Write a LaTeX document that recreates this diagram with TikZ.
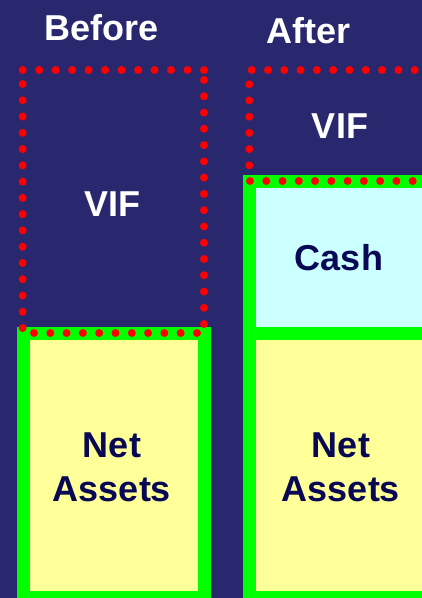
\documentclass[tikz,border=0pt]{standalone}
\usepackage{fontspec}
\setmainfont{Liberation Sans}
\definecolor{bgnavy}{RGB}{41,39,110}
\definecolor{txtnavy}{RGB}{8,8,84}
\definecolor{boxgreen}{RGB}{0,255,0}
\definecolor{cashcyan}{RGB}{204,255,255}
\definecolor{assetyellow}{RGB}{255,255,153}
\definecolor{dotred}{RGB}{255,0,0}
\tikzset{
  greenbox/.style={draw=boxgreen, line width=13pt},
  reddot/.style={fill=dotred},
  whitelabel/.style={text=white, font=\fontsize{36}{44}\selectfont\bfseries, anchor=base, inner sep=0pt},
  navylabel/.style={text=txtnavy, font=\fontsize{36}{44}\selectfont\bfseries, anchor=base, inner sep=0pt, align=center},
}
\begin{document}
\begin{tikzpicture}[x=1pt,y=-1pt]
\useasboundingbox (0,0) rectangle (422,598);
\fill[bgnavy] (0,0) rectangle (422,598);
\clip (0,0) rectangle (422,598);
% boxes
\draw[greenbox, fill=assetyellow] (23,333.5) rectangle (204.5,597);
\draw[greenbox, fill=cashcyan] (249.5,181.5) rectangle (440,333.5);
\draw[greenbox, fill=assetyellow] (249.5,333.5) rectangle (440,597);
% dotted VIF outline, left
\foreach \i in {0,...,11} \fill[reddot] (22.7+16.48*\i,70) circle (4);
\foreach \i in {0,...,15} \fill[reddot] (204,80+16.27*\i) circle (4);
\foreach \i in {0,...,10} \fill[reddot] (34+16.3*\i,333) circle (4);
\foreach \i in {0,...,15} \fill[reddot] (22.7,84+16.27*\i) circle (4);
% dotted VIF outline, right
\foreach \i in {0,...,11} \fill[reddot] (251.7+16.3*\i,70) circle (4);
\foreach \i in {0,...,5} \fill[reddot] (249.3,84.3+16.2*\i) circle (4);
\foreach \i in {0,...,11} \fill[reddot] (250+16.27*\i,181) circle (4);
% labels
\node[whitelabel] (before) at (101.7,40) {Before};
\node[whitelabel] (after) at (309,43) {After};
\node[whitelabel] (vifl) at (112.5,216) {VIF};
\node[whitelabel] (vifr) at (340,138) {VIF};
\node[navylabel] (cash) at (339,270) {Cash};
\node[navylabel] (nal) at (112,501) {Net\\Assets};
\node[navylabel] (nar) at (341,501) {Net\\Assets};
\end{tikzpicture}
\end{document}
